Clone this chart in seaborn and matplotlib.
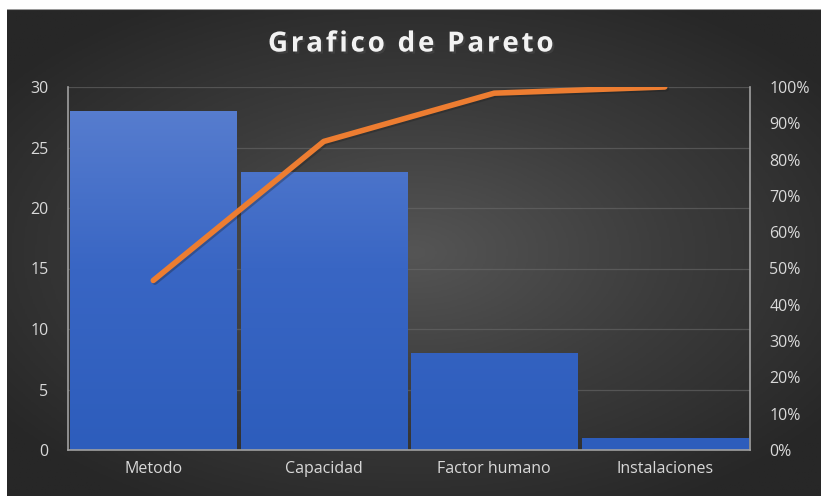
import matplotlib
matplotlib.use("Agg")
import matplotlib.pyplot as plt
import matplotlib.patheffects as pe
from matplotlib.colors import LinearSegmentedColormap
from matplotlib.ticker import PercentFormatter
import seaborn as sns
import numpy as np
import pandas as pd

categories = ["Metodo", "Capacidad", "Factor humano", "Instalaciones"]
counts = [28, 23, 8, 1]
cum_pct = [46.7, 85.0, 98.3, 100.0]
left_ticks = [0, 5, 10, 15, 20, 25, 30]
right_ticks = [0, 10, 20, 30, 40, 50, 60, 70, 80, 90, 100]
title = "Grafico de Pareto"

sns.set_theme(style="white")
plt.rcParams["font.family"] = ["Open Sans", "DejaVu Sans"]

fig = plt.figure(figsize=(8.21, 4.96), dpi=100)
fig.patch.set_facecolor("white")

# dark radial background
bg = fig.add_axes([7 / 821, 0, 1 - 7 / 821, 1 - 9 / 496], zorder=-10)
yy, xx = np.mgrid[-1:1:300j, -1:1:500j]
r = np.sqrt((xx * 0.95) ** 2 + (yy * 1.0) ** 2)
bg_cmap = LinearSegmentedColormap.from_list("bg", ["#555555", "#3c3c3c", "#272727"])
bg.imshow(r, cmap=bg_cmap, aspect="auto", extent=[0, 1, 0, 1], vmin=0, vmax=1.2)
bg.axhline(1, color="#9a9a9a", lw=1.5)
bg.set_axis_off()

ax = fig.add_axes([68 / 821, 1 - 450 / 496, (750 - 68) / 821, (450 - 87) / 496])
ax.patch.set_alpha(0)

df = pd.DataFrame({"categoria": categories, "cantidad": counts})
sns.barplot(data=df, x="categoria", y="cantidad", color="#3a67c5", width=0.976,
            saturation=1, linewidth=0, ax=ax, zorder=2)

# vertical gradient on bars
bar_cmap = LinearSegmentedColormap.from_list("bar", ["#2d5dbc", "#3966c4", "#5b80d0"])
grad = np.linspace(0, 1, 256).reshape(-1, 1)
for p in ax.patches:
    x0 = p.get_x()
    w = p.get_width()
    im = ax.imshow(grad, cmap=bar_cmap, aspect="auto", origin="lower",
                   extent=[x0, x0 + w, 0, 30], zorder=2.5, vmin=0, vmax=1)
    im.set_clip_path(p)

ax.set_xlim(-0.5, 3.5)
ax.set_ylim(0, 30)
ax.set_yticks(left_ticks)
ax.set_xlabel("")
ax.set_ylabel("")
for y in left_ticks[1:]:
    ax.axhline(y, color="#6a6a6a", lw=0.9, alpha=0.6, zorder=1)
ax.spines["top"].set_visible(False)
for s in ["left", "bottom", "right"]:
    ax.spines[s].set_color("#a0a0a0")
    ax.spines[s].set_linewidth(1.2)
ax.tick_params(axis="both", colors="#d9d9d9", labelsize=11.5, length=0)
ax.tick_params(axis="y", pad=14)
ax.tick_params(axis="x", pad=8)

ax2 = ax.twinx()
sns.lineplot(x=np.arange(len(categories)), y=cum_pct, ax=ax2, color="#ed7d31",
             lw=4, solid_capstyle="round", zorder=5,
             path_effects=[pe.SimpleLineShadow(offset=(1.2, -1.2), alpha=0.3), pe.Normal()])
ax2.set_ylim(0, 100)
ax2.set_yticks(right_ticks)
ax2.yaxis.set_major_formatter(PercentFormatter(decimals=0))
ax2.tick_params(axis="y", colors="#d9d9d9", labelsize=11.5, length=0, pad=14)
for s in ax2.spines.values():
    s.set_visible(False)
ax2.patch.set_alpha(0)

fig.text(0.5, 1 - 44 / 496, "\u200a".join(title),
         ha="center", va="center", fontsize=20, fontweight="bold", color="#f2f2f2",
         path_effects=[pe.withSimplePatchShadow(offset=(1.5, -1.5), alpha=0.6)])

fig.savefig("out.png", dpi=100)
